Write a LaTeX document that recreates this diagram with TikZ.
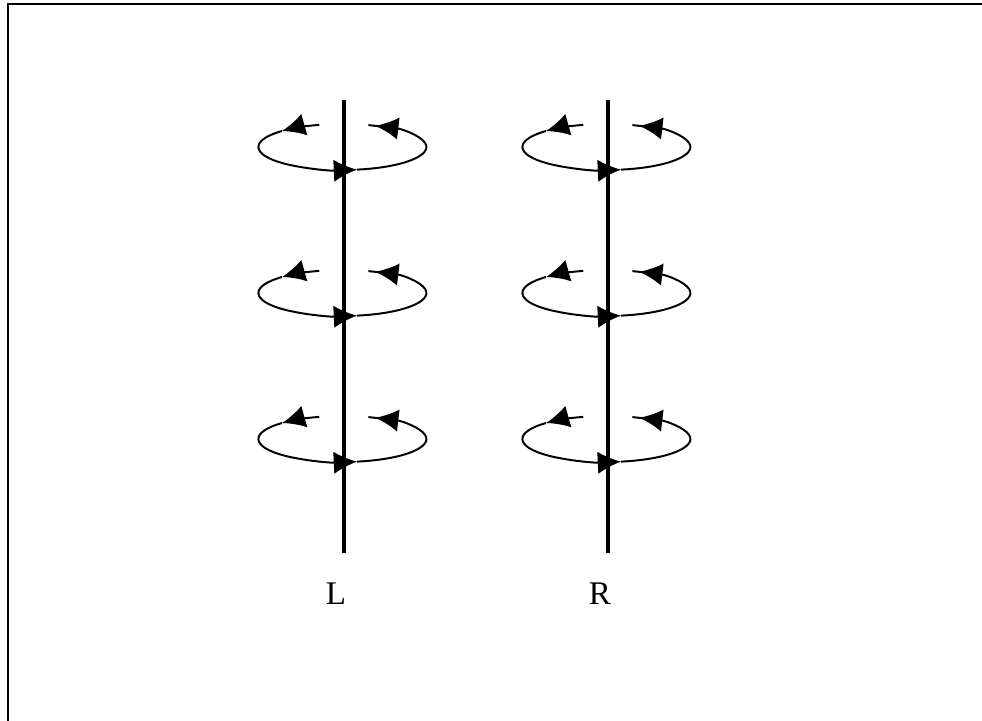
\documentclass[tikz,border=0pt]{standalone}
\usepackage{fontspec}
\setmainfont{Liberation Serif}
\usetikzlibrary{arrows.meta,positioning}

\begin{document}
\begin{tikzpicture}[>={Latex[length=0.58cm,width=0.56cm]},
  axis/.style={line width=3pt},
  spin/.style={line width=1.4pt},
  lbl/.style={font=\fontsize{23.5}{28}\selectfont}]
  \useasboundingbox (0,0) rectangle (24.55,18.025);
  \draw[line width=1.6pt] (0.2,0) |- (24.55,17.925);
  % the two axes
  \coordinate (Ltop) at (8.6,15.525);
  \coordinate (Lbot) at (8.6,4.2);
  \coordinate (Rtop) at (15.2,15.525);
  \coordinate (Rbot) at (15.2,4.2);
  \draw[axis] (Ltop) -- (Lbot);
  \draw[axis] (Rtop) -- (Rbot);
  \node[lbl] (l) at (8.4,3.175) {L};
  \node[lbl] (r) at (15.0,3.175) {R};
  % rotation markers round each axis
  \foreach \x in {8.56,15.16}
    \foreach \h in {14.35,10.7,7.05} {
      \coordinate (c) at (\x,\h);
      \draw[spin,->] (c) ++(106:2.1 and 0.575) arc[start angle=106,end angle=136,x radius=2.1,y radius=0.575];
      \draw[spin,->] (c) ++(136:2.1 and 0.575) arc[start angle=136,end angle=280,x radius=2.1,y radius=0.575];
      \draw[spin,->] (c) ++(280:2.1 and 0.575) arc[start angle=280,end angle=427,x radius=2.1,y radius=0.575];
      \draw[spin] (c) ++(64:2.1 and 0.575) arc[start angle=64,end angle=72,x radius=2.1,y radius=0.575];
    }
\end{tikzpicture}
\end{document}
